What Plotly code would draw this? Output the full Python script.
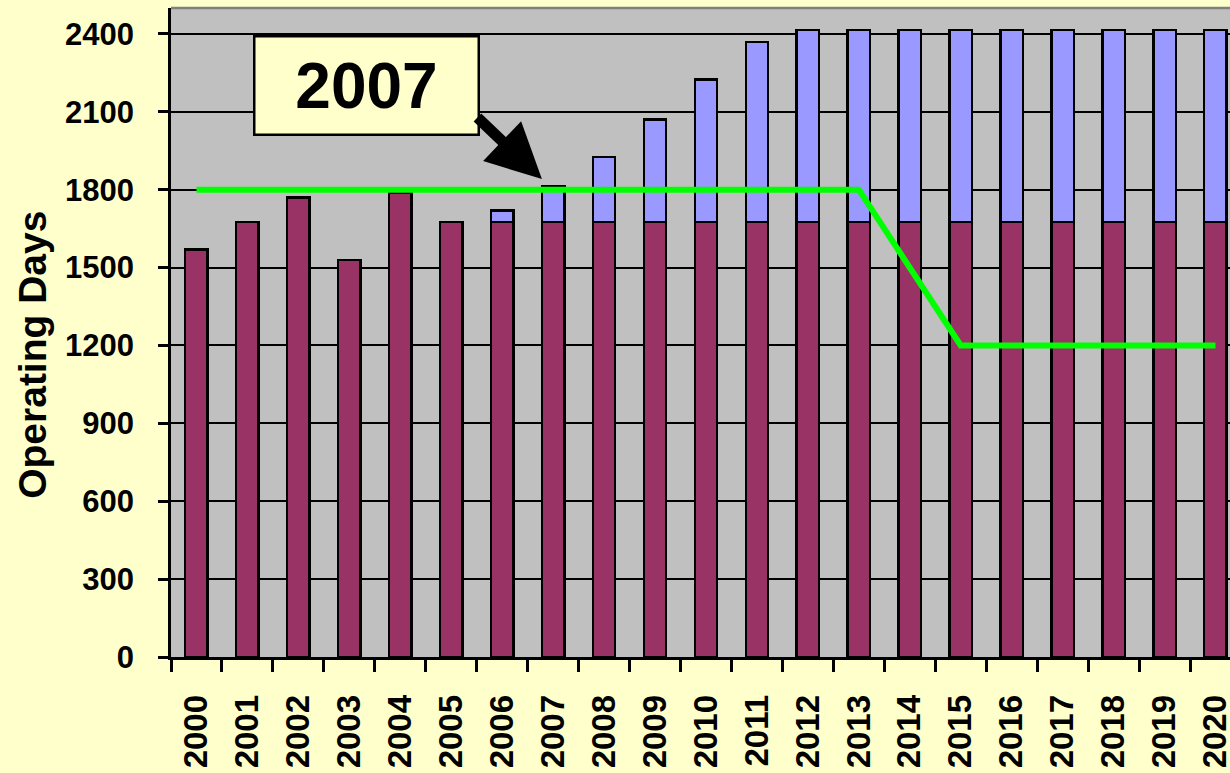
import plotly.graph_objects as go

years = [str(y) for y in range(2000, 2021)]
base_days = [1570, 1675, 1770, 1530, 1790, 1675, 1675, 1675, 1675, 1675, 1675,
             1675, 1675, 1675, 1675, 1675, 1675, 1675, 1675, 1675, 1675]
extra_days = [0, 0, 0, 0, 0, 0, 45, 140, 250, 395, 550,
              695, 740, 740, 740, 740, 740, 740, 740, 740, 740]
limit_days = [1800, 1800, 1800, 1800, 1800, 1800, 1800, 1800, 1800, 1800, 1800,
              1800, 1800, 1800, 1500, 1200, 1200, 1200, 1200, 1200, 1200]
y_ticks = [0, 300, 600, 900, 1200, 1500, 1800, 2100, 2400]

FONT = "Liberation Sans, Arial, sans-serif"

fig = go.Figure()
fig.add_trace(go.Bar(x=years, y=base_days, width=0.44,
                     marker=dict(color="#993366", line=dict(color="black", width=2.4))))
fig.add_trace(go.Bar(x=years, y=extra_days, width=0.44,
                     marker=dict(color="#9999FF", line=dict(color="black", width=2.4))))
fig.add_trace(go.Scatter(x=years, y=limit_days, mode="lines",
                         line=dict(color="#00FF00", width=6)))

fig.update_layout(
    width=1230, height=773,
    barmode="stack",
    showlegend=False,
    paper_bgcolor="#FFFFCC",
    plot_bgcolor="#C0C0C0",
    margin=dict(l=171, r=0, t=8, b=116, autoexpand=False),
    font=dict(family=FONT, color="black"),
)
fig.update_xaxes(
    type="category",
    range=[-0.5, 20.285],
    automargin=False,
    tickson="boundaries",
    ticks="outside", ticklen=12, tickwidth=2.5, tickcolor="black",
    showline=True, linecolor="black", linewidth=2.5,
    showgrid=False,
    tickangle=-90,
    tickfont=dict(size=33, family=FONT, weight="bold"),
    ticklabelstandoff=22,
)
fig.update_yaxes(
    range=[0, 2500],
    automargin=False,
    tickvals=y_ticks,
    ticks="outside", ticklen=10, tickwidth=2.5, tickcolor="black",
    showline=True, linecolor="black", linewidth=2.5,
    showgrid=True, gridcolor="black", gridwidth=2,
    zeroline=False,
    tickfont=dict(size=31, family=FONT, weight="bold"),
    ticklabelstandoff=18,
)

# top border of plot area
fig.add_shape(type="line", xref="paper", yref="paper", x0=0, x1=1, y0=1, y1=1,
              line=dict(color="#808080", width=2.5))

# y-axis title
fig.add_annotation(text="<b>Operating Days</b>", xref="paper", yref="paper",
                   x=-0.131, y=0.466, xanchor="center", yanchor="middle",
                   textangle=-90, showarrow=False,
                   font=dict(size=39, family=FONT, color="black"))

# callout box
fig.add_annotation(text="<b>2007</b>", xref="x", yref="y",
                   x=3.337, y=2201, xanchor="center", yanchor="middle",
                   showarrow=False, bgcolor="#FFFFCC", bordercolor="black",
                   borderwidth=2.5, borderpad=0, width=222, height=96,
                   font=dict(size=64, family=FONT, color="black"))
# arrow
fig.add_annotation(text="", xref="x", yref="y", x=6.78, y=1841,
                   ax=-66, ay=-63, axref="pixel", ayref="pixel",
                   showarrow=True, arrowhead=2, arrowsize=1.0, arrowwidth=11,
                   arrowcolor="black", standoff=0)

fig.write_html("out.html",
               config={"displayModeBar": False},
               post_script="document.body.style.margin='0';"
                           "document.body.style.background='#FFFFCC';")
